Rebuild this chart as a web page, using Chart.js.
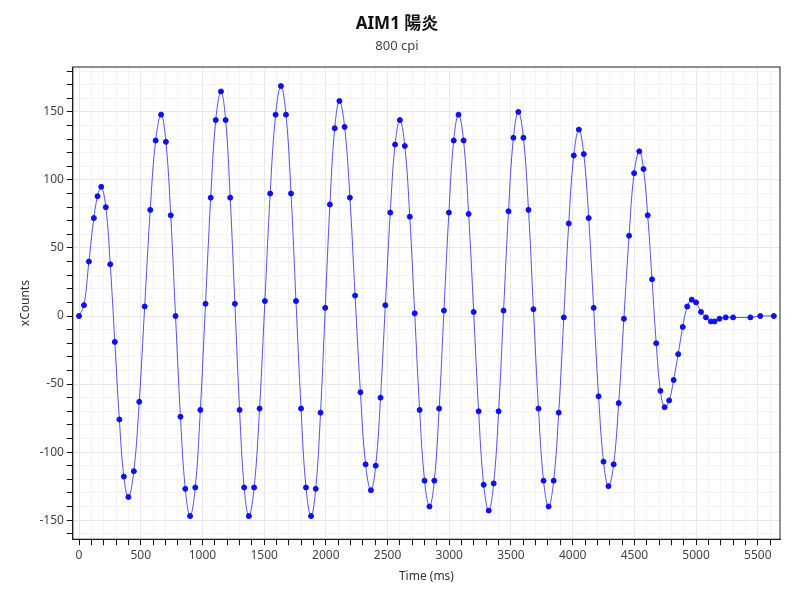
<!DOCTYPE html>
<html>
<head>
<meta charset="utf-8">
<script src="https://cdn.jsdelivr.net/npm/chart.js@4"></script>
<style>body{margin:0;background:#fff}</style>
</head>
<body>
<canvas id="chart" width="800" height="600"></canvas>
<script>
// 読み取った値 (ms, counts)
const times = [0,40,80,120,150,180,217,253,290,327,363,400,444,488,532,577,621,665,704,743,782,822,861,900,
	942,983,1025,1067,1108,1150,1188,1225,1263,1301,1338,1376,1419,1463,1506,1549,1593,1636,1677,1718,1758,1799,1839,1880,
	1918,1957,1995,2033,2072,2110,2152,2195,2237,2280,2322,2365,2404,2443,2482,2522,2561,2600,2640,2680,2720,2760,2800,2840,
	2879,2918,2957,2997,3036,3075,3116,3157,3198,3238,3279,3320,3360,3400,3440,3480,3520,3560,3601,3642,3682,3723,3764,3805,
	3846,3887,3928,3968,4009,4050,4090,4130,4170,4210,4250,4290,4332,4373,4415,4457,4498,4540,4574,4608,4643,4677,4711,4745,
	4782,4818,4855,4892,4928,4965,5000,5040,5080,5120,5150,5190,5240,5300,5440,5520,5630];
const xCounts = [0,8,40,72,88,95,80,38,-19,-76,-118,-133,-114,-63,7,78,129,148,128,74,0,-74,-127,-147,
	-126,-69,9,87,144,165,144,87,9,-69,-126,-147,-126,-68,11,90,148,169,148,90,11,-68,-126,-147,
	-127,-71,6,82,138,158,139,87,15,-56,-109,-128,-110,-60,8,76,126,144,125,73,2,-69,-121,-140,
	-121,-68,4,76,129,148,129,75,3,-70,-124,-143,-123,-70,4,77,131,150,131,78,5,-68,-121,-140,
	-121,-71,-1,68,118,137,119,72,6,-59,-107,-125,-109,-64,-2,59,105,121,108,74,27,-20,-55,-67,
	-62,-47,-28,-8,7,12,10,3,-1,-4,-4,-2,-1,-1,-1,0,0];

const font = "'Noto Sans', 'Noto Sans CJK JP', sans-serif";

const frame = {
	id: 'frame',
	afterDraw(chart) {
		const {ctx, chartArea: a} = chart;
		ctx.save();
		ctx.strokeStyle = '#222';
		ctx.lineWidth = 1;
		ctx.strokeRect(a.left, a.top, a.right - a.left, a.bottom - a.top);
		ctx.restore();
	}
};

new Chart(document.getElementById('chart'), {
	type: 'line',
	data: {
		datasets: [{
			data: times.map((t, i) => ({x: t, y: xCounts[i]})),
			borderColor: 'rgba(40, 40, 230, 0.8)',
			borderWidth: 1,
			pointBackgroundColor: '#1010ee',
			pointBorderColor: '#1010ee',
			pointRadius: 2.5,
			tension: 0.4,
		}]
	},
	options: {
		responsive: false,
		animation: false,
		layout: {padding: {left: 14, right: 20, top: 8, bottom: 12}},
		plugins: {
			legend: {display: false},
			title: {display: true, text: 'AIM1 陽炎', color: '#111', font: {family: font, size: 17, weight: 'bold'}, padding: {top: 6, bottom: 4}},
			subtitle: {display: true, text: '800 cpi', color: '#444', font: {family: font, size: 13}, padding: {bottom: 13}}
		},
		scales: {
			x: {
				type: 'linear',
				min: -50,
				max: 5680,
				title: {display: true, text: 'Time (ms)', color: '#333', font: {family: font, size: 12}},
				border: {color: '#111'},
				grid: {color: ctx => ctx.tick && ctx.tick.value % 500 === 0 ? '#e6e6ee' : '#f3f3f7', tickColor: '#111', tickLength: 6},
				afterBuildTicks: axis => {
					const t = [];
					for (let v = 0; v <= 5600; v += 100) t.push({value: v});
					axis.ticks = t;
				},
				ticks: {
					autoSkip: false, maxRotation: 0, color: '#444', font: {family: font, size: 12},
					callback: v => v % 500 === 0 ? v : ''
				}
			},
			y: {
				min: -164,
				max: 183,
				title: {display: true, text: 'xCounts', color: '#333', font: {family: font, size: 12}},
				border: {color: '#111'},
				grid: {color: ctx => ctx.tick && ctx.tick.value % 50 === 0 ? '#e6e6ee' : '#f3f3f7', tickColor: '#111', tickLength: 6},
				afterBuildTicks: axis => {
					const t = [];
					for (let v = -160; v <= 180; v += 10) t.push({value: v});
					axis.ticks = t;
				},
				ticks: {
					autoSkip: false, color: '#444', font: {family: font, size: 12},
					callback: v => v % 50 === 0 ? v : ''
				}
			}
		}
	},
	plugins: [frame]
});
</script>
</body>
</html>
